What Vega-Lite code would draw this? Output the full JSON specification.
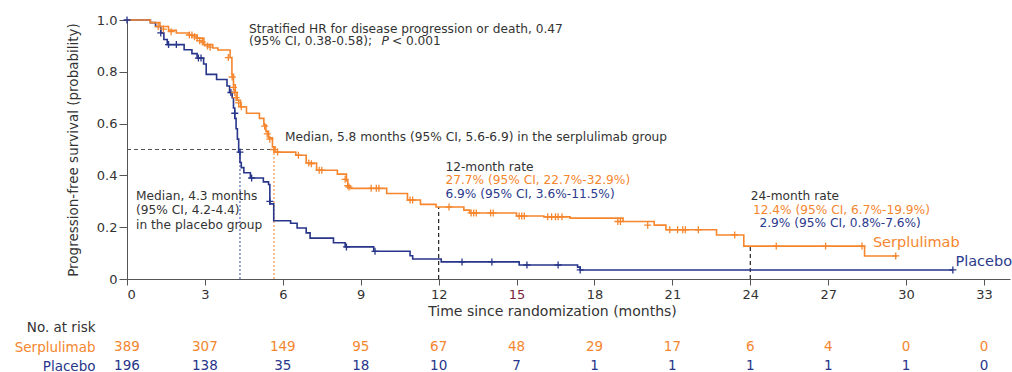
{
  "$schema": "https://vega.github.io/schema/vega-lite/v6.json",
  "padding": {"left": 14, "top": 13, "right": 0, "bottom": 0},
  "background": "white",
  "config": {
    "font": "DejaVu Sans",
    "view": {"stroke": null},
    "axis": {"labelFont": "DejaVu Sans", "titleFont": "DejaVu Sans", "grid": false, "domainColor": "#555555", "tickColor": "#555555", "labelColor": "#333333", "titleColor": "#333333", "titleFontWeight": "normal"}
  },
  "spacing": 0,
  "datasets": {
    "curve": [
      {"g": "Placebo", "t": 0, "s": 1.0}, {"g": "Placebo", "t": 0.9, "s": 0.99}, {"g": "Placebo", "t": 1.1, "s": 0.975}, {"g": "Placebo", "t": 1.3, "s": 0.95}, {"g": "Placebo", "t": 1.42, "s": 0.925}, {"g": "Placebo", "t": 1.55, "s": 0.905}, {"g": "Placebo", "t": 2.2, "s": 0.885}, {"g": "Placebo", "t": 2.5, "s": 0.87}, {"g": "Placebo", "t": 2.7, "s": 0.853}, {"g": "Placebo", "t": 2.95, "s": 0.83}, {"g": "Placebo", "t": 3.05, "s": 0.79}, {"g": "Placebo", "t": 3.45, "s": 0.77}, {"g": "Placebo", "t": 3.85, "s": 0.745}, {"g": "Placebo", "t": 3.95, "s": 0.72}, {"g": "Placebo", "t": 4.05, "s": 0.7}, {"g": "Placebo", "t": 4.1, "s": 0.66}, {"g": "Placebo", "t": 4.15, "s": 0.62}, {"g": "Placebo", "t": 4.2, "s": 0.58}, {"g": "Placebo", "t": 4.25, "s": 0.54}, {"g": "Placebo", "t": 4.3, "s": 0.49}, {"g": "Placebo", "t": 4.35, "s": 0.45}, {"g": "Placebo", "t": 4.4, "s": 0.43}, {"g": "Placebo", "t": 4.5, "s": 0.41}, {"g": "Placebo", "t": 4.75, "s": 0.39}, {"g": "Placebo", "t": 5.25, "s": 0.375}, {"g": "Placebo", "t": 5.45, "s": 0.365}, {"g": "Placebo", "t": 5.5, "s": 0.29}, {"g": "Placebo", "t": 5.65, "s": 0.225}, {"g": "Placebo", "t": 6.3, "s": 0.215}, {"g": "Placebo", "t": 6.55, "s": 0.197}, {"g": "Placebo", "t": 6.9, "s": 0.178}, {"g": "Placebo", "t": 7.05, "s": 0.158}, {"g": "Placebo", "t": 7.95, "s": 0.14}, {"g": "Placebo", "t": 8.4, "s": 0.124}, {"g": "Placebo", "t": 9.5, "s": 0.107}, {"g": "Placebo", "t": 10.9, "s": 0.09}, {"g": "Placebo", "t": 11.0, "s": 0.077}, {"g": "Placebo", "t": 12.1, "s": 0.066}, {"g": "Placebo", "t": 15.1, "s": 0.054}, {"g": "Placebo", "t": 17.35, "s": 0.046}, {"g": "Placebo", "t": 17.45, "s": 0.035}, {"g": "Placebo", "t": 31.8, "s": 0.035},
      {"g": "Serplulimab", "t": 0, "s": 1.0}, {"g": "Serplulimab", "t": 0.9, "s": 0.99}, {"g": "Serplulimab", "t": 1.27, "s": 0.975}, {"g": "Serplulimab", "t": 1.6, "s": 0.96}, {"g": "Serplulimab", "t": 1.9, "s": 0.95}, {"g": "Serplulimab", "t": 2.4, "s": 0.942}, {"g": "Serplulimab", "t": 2.7, "s": 0.93}, {"g": "Serplulimab", "t": 2.96, "s": 0.905}, {"g": "Serplulimab", "t": 3.3, "s": 0.892}, {"g": "Serplulimab", "t": 3.5, "s": 0.884}, {"g": "Serplulimab", "t": 3.97, "s": 0.855}, {"g": "Serplulimab", "t": 4.04, "s": 0.79}, {"g": "Serplulimab", "t": 4.1, "s": 0.75}, {"g": "Serplulimab", "t": 4.17, "s": 0.72}, {"g": "Serplulimab", "t": 4.24, "s": 0.69}, {"g": "Serplulimab", "t": 4.37, "s": 0.665}, {"g": "Serplulimab", "t": 4.6, "s": 0.64}, {"g": "Serplulimab", "t": 5.1, "s": 0.62}, {"g": "Serplulimab", "t": 5.27, "s": 0.595}, {"g": "Serplulimab", "t": 5.35, "s": 0.57}, {"g": "Serplulimab", "t": 5.45, "s": 0.545}, {"g": "Serplulimab", "t": 5.6, "s": 0.51}, {"g": "Serplulimab", "t": 5.7, "s": 0.49}, {"g": "Serplulimab", "t": 6.5, "s": 0.478}, {"g": "Serplulimab", "t": 6.9, "s": 0.448}, {"g": "Serplulimab", "t": 7.3, "s": 0.42}, {"g": "Serplulimab", "t": 8.1, "s": 0.405}, {"g": "Serplulimab", "t": 8.45, "s": 0.38}, {"g": "Serplulimab", "t": 8.5, "s": 0.355}, {"g": "Serplulimab", "t": 8.6, "s": 0.35}, {"g": "Serplulimab", "t": 10.0, "s": 0.33}, {"g": "Serplulimab", "t": 10.8, "s": 0.305}, {"g": "Serplulimab", "t": 11.3, "s": 0.288}, {"g": "Serplulimab", "t": 11.9, "s": 0.278}, {"g": "Serplulimab", "t": 12.97, "s": 0.266}, {"g": "Serplulimab", "t": 13.2, "s": 0.255}, {"g": "Serplulimab", "t": 15.0, "s": 0.243}, {"g": "Serplulimab", "t": 16.05, "s": 0.24}, {"g": "Serplulimab", "t": 17.06, "s": 0.235}, {"g": "Serplulimab", "t": 19.1, "s": 0.222}, {"g": "Serplulimab", "t": 20.3, "s": 0.208}, {"g": "Serplulimab", "t": 20.75, "s": 0.19}, {"g": "Serplulimab", "t": 22.7, "s": 0.17}, {"g": "Serplulimab", "t": 23.75, "s": 0.127}, {"g": "Serplulimab", "t": 28.4, "s": 0.089}, {"g": "Serplulimab", "t": 29.65, "s": 0.089}
    ],
    "censor": [
      {"g": "Placebo", "t": 0, "s": 1.0}, {"g": "Placebo", "t": 1.3, "s": 0.95}, {"g": "Placebo", "t": 1.6, "s": 0.905}, {"g": "Placebo", "t": 1.9, "s": 0.905}, {"g": "Placebo", "t": 2.75, "s": 0.853}, {"g": "Placebo", "t": 2.85, "s": 0.853}, {"g": "Placebo", "t": 4.0, "s": 0.72}, {"g": "Placebo", "t": 4.15, "s": 0.64}, {"g": "Placebo", "t": 4.35, "s": 0.49}, {"g": "Placebo", "t": 4.8, "s": 0.39}, {"g": "Placebo", "t": 5.5, "s": 0.3}, {"g": "Placebo", "t": 8.45, "s": 0.124}, {"g": "Placebo", "t": 9.55, "s": 0.107}, {"g": "Placebo", "t": 12.9, "s": 0.066}, {"g": "Placebo", "t": 14.05, "s": 0.066}, {"g": "Placebo", "t": 15.4, "s": 0.054}, {"g": "Placebo", "t": 16.6, "s": 0.054}, {"g": "Placebo", "t": 17.45, "s": 0.035}, {"g": "Placebo", "t": 31.8, "s": 0.035},
      {"g": "Serplulimab", "t": 1.2, "s": 0.975}, {"g": "Serplulimab", "t": 1.4, "s": 0.965}, {"g": "Serplulimab", "t": 1.7, "s": 0.955}, {"g": "Serplulimab", "t": 2.4, "s": 0.942}, {"g": "Serplulimab", "t": 2.5, "s": 0.942}, {"g": "Serplulimab", "t": 2.6, "s": 0.935}, {"g": "Serplulimab", "t": 2.7, "s": 0.93}, {"g": "Serplulimab", "t": 2.8, "s": 0.92}, {"g": "Serplulimab", "t": 2.9, "s": 0.915}, {"g": "Serplulimab", "t": 3.1, "s": 0.9}, {"g": "Serplulimab", "t": 3.2, "s": 0.895}, {"g": "Serplulimab", "t": 3.9, "s": 0.855}, {"g": "Serplulimab", "t": 4.05, "s": 0.78}, {"g": "Serplulimab", "t": 4.1, "s": 0.74}, {"g": "Serplulimab", "t": 4.15, "s": 0.72}, {"g": "Serplulimab", "t": 4.2, "s": 0.7}, {"g": "Serplulimab", "t": 4.3, "s": 0.68}, {"g": "Serplulimab", "t": 4.4, "s": 0.665}, {"g": "Serplulimab", "t": 5.3, "s": 0.59}, {"g": "Serplulimab", "t": 5.4, "s": 0.56}, {"g": "Serplulimab", "t": 5.5, "s": 0.54}, {"g": "Serplulimab", "t": 5.65, "s": 0.5}, {"g": "Serplulimab", "t": 5.8, "s": 0.49}, {"g": "Serplulimab", "t": 6.6, "s": 0.478}, {"g": "Serplulimab", "t": 7.0, "s": 0.448}, {"g": "Serplulimab", "t": 7.1, "s": 0.445}, {"g": "Serplulimab", "t": 7.4, "s": 0.42}, {"g": "Serplulimab", "t": 7.5, "s": 0.42}, {"g": "Serplulimab", "t": 8.4, "s": 0.385}, {"g": "Serplulimab", "t": 8.5, "s": 0.36}, {"g": "Serplulimab", "t": 8.55, "s": 0.355}, {"g": "Serplulimab", "t": 9.4, "s": 0.35}, {"g": "Serplulimab", "t": 9.6, "s": 0.35}, {"g": "Serplulimab", "t": 9.7, "s": 0.35}, {"g": "Serplulimab", "t": 10.9, "s": 0.305}, {"g": "Serplulimab", "t": 11.0, "s": 0.305}, {"g": "Serplulimab", "t": 12.4, "s": 0.278}, {"g": "Serplulimab", "t": 13.25, "s": 0.255}, {"g": "Serplulimab", "t": 13.35, "s": 0.255}, {"g": "Serplulimab", "t": 13.45, "s": 0.255}, {"g": "Serplulimab", "t": 14.0, "s": 0.255}, {"g": "Serplulimab", "t": 14.1, "s": 0.255}, {"g": "Serplulimab", "t": 15.1, "s": 0.243}, {"g": "Serplulimab", "t": 15.2, "s": 0.243}, {"g": "Serplulimab", "t": 15.3, "s": 0.243}, {"g": "Serplulimab", "t": 16.2, "s": 0.24}, {"g": "Serplulimab", "t": 16.35, "s": 0.24}, {"g": "Serplulimab", "t": 16.5, "s": 0.24}, {"g": "Serplulimab", "t": 16.6, "s": 0.24}, {"g": "Serplulimab", "t": 16.75, "s": 0.24}, {"g": "Serplulimab", "t": 18.9, "s": 0.222}, {"g": "Serplulimab", "t": 19.0, "s": 0.222}, {"g": "Serplulimab", "t": 20.05, "s": 0.208}, {"g": "Serplulimab", "t": 20.9, "s": 0.19}, {"g": "Serplulimab", "t": 21.2, "s": 0.19}, {"g": "Serplulimab", "t": 21.4, "s": 0.19}, {"g": "Serplulimab", "t": 21.5, "s": 0.19}, {"g": "Serplulimab", "t": 22.0, "s": 0.19}, {"g": "Serplulimab", "t": 23.4, "s": 0.17}, {"g": "Serplulimab", "t": 25.0, "s": 0.127}, {"g": "Serplulimab", "t": 26.9, "s": 0.127}, {"g": "Serplulimab", "t": 28.3, "s": 0.127}, {"g": "Serplulimab", "t": 29.6, "s": 0.089}
    ],
    "notes": [
      {"x": 4.7, "y": 0.967, "t": "Stratified HR for disease progression or death, 0.47", "c": "#333333"},
      {"x": 4.7, "y": 0.917, "t": "(95% CI, 0.38-0.58);", "c": "#333333"},
      {"x": 10.2, "y": 0.917, "t": "< 0.001", "c": "#333333"},
      {"x": 6.08, "y": 0.548, "t": "Median, 5.8 months (95% CI, 5.6-6.9) in the serplulimab group", "c": "#333333"},
      {"x": 12.26, "y": 0.432, "t": "12-month rate", "c": "#333333"},
      {"x": 12.26, "y": 0.381, "t": "27.7% (95% CI, 22.7%-32.9%)", "c": "#f5862e"},
      {"x": 12.26, "y": 0.329, "t": "6.9% (95% CI, 3.6%-11.5%)", "c": "#2b3a8c"},
      {"x": 24.02, "y": 0.32, "t": "24-month rate", "c": "#333333"},
      {"x": 24.1, "y": 0.268, "t": "12.4% (95% CI, 6.7%-19.9%)", "c": "#f5862e"},
      {"x": 24.35, "y": 0.216, "t": "2.9% (95% CI, 0.8%-7.6%)", "c": "#2b3a8c"},
      {"x": 0.35, "y": 0.322, "t": "Median, 4.3 months", "c": "#333333"},
      {"x": 0.35, "y": 0.265, "t": "(95% CI, 4.2-4.4)", "c": "#333333"},
      {"x": 0.35, "y": 0.21, "t": "in the placebo group", "c": "#333333"}
    ],
    "labels": [
      {"x": 28.72, "y": 0.138, "t": "Serplulimab", "c": "#f5862e"},
      {"x": 31.9, "y": 0.066, "t": "Placebo", "c": "#2b3a8c"}
    ],
    "risk": [
      {"g": "Serplulimab", "t": 0, "n": 389}, {"g": "Serplulimab", "t": 3, "n": 307}, {"g": "Serplulimab", "t": 6, "n": 149}, {"g": "Serplulimab", "t": 9, "n": 95}, {"g": "Serplulimab", "t": 12, "n": 67}, {"g": "Serplulimab", "t": 15, "n": 48}, {"g": "Serplulimab", "t": 18, "n": 29}, {"g": "Serplulimab", "t": 21, "n": 17}, {"g": "Serplulimab", "t": 24, "n": 6}, {"g": "Serplulimab", "t": 27, "n": 4}, {"g": "Serplulimab", "t": 30, "n": 0}, {"g": "Serplulimab", "t": 33, "n": 0},
      {"g": "Placebo", "t": 0, "n": 196}, {"g": "Placebo", "t": 3, "n": 138}, {"g": "Placebo", "t": 6, "n": 35}, {"g": "Placebo", "t": 9, "n": 18}, {"g": "Placebo", "t": 12, "n": 10}, {"g": "Placebo", "t": 15, "n": 7}, {"g": "Placebo", "t": 18, "n": 1}, {"g": "Placebo", "t": 21, "n": 1}, {"g": "Placebo", "t": 24, "n": 1}, {"g": "Placebo", "t": 27, "n": 1}, {"g": "Placebo", "t": 30, "n": 1}, {"g": "Placebo", "t": 33, "n": 0}
    ]
  },
  "vconcat": [
    {
      "width": 883,
      "height": 259,
      "layer": [
        {
          "data": {"values": [{"x": 0, "x2": 5.66, "y": 0.5}]},
          "mark": {"type": "rule", "color": "#555555", "strokeDash": [4, 3], "strokeWidth": 1},
          "encoding": {
            "x": {"field": "x", "type": "quantitative", "scale": {"domain": [0, 34], "nice": false}},
            "x2": {"field": "x2"},
            "y": {"field": "y", "type": "quantitative", "scale": {"domain": [0, 1]}}
          }
        },
        {
          "data": {"values": [{"x": 4.35, "y": 0, "y2": 0.5}]},
          "mark": {"type": "rule", "color": "#5a67b8", "strokeDash": [2, 2], "strokeWidth": 1.2},
          "encoding": {
            "x": {"field": "x", "type": "quantitative"},
            "y": {"field": "y", "type": "quantitative"},
            "y2": {"field": "y2"}
          }
        },
        {
          "data": {"values": [{"x": 5.66, "y": 0, "y2": 0.5}]},
          "mark": {"type": "rule", "color": "#f5964a", "strokeDash": [2, 2], "strokeWidth": 1.2},
          "encoding": {
            "x": {"field": "x", "type": "quantitative"},
            "y": {"field": "y", "type": "quantitative"},
            "y2": {"field": "y2"}
          }
        },
        {
          "data": {"values": [{"x": 12, "y": 0, "y2": 0.278}, {"x": 24, "y": 0, "y2": 0.127}]},
          "mark": {"type": "rule", "color": "#222222", "strokeDash": [4, 3], "strokeWidth": 1.2},
          "encoding": {
            "x": {"field": "x", "type": "quantitative"},
            "y": {"field": "y", "type": "quantitative"},
            "y2": {"field": "y2"}
          }
        },
        {
          "data": {"name": "curve"},
          "mark": {"type": "line", "interpolate": "step-after", "strokeWidth": 1.6},
          "encoding": {
            "x": {"field": "t", "type": "quantitative", "scale": {"domain": [0, 34], "nice": false},
              "axis": {"values": [0, 3, 6, 9, 12, 15, 18, 21, 24, 27, 30, 33], "title": "Time since randomization (months)", "labelFontSize": 13, "titleFontSize": 14, "tickSize": 6, "labelPadding": 3, "titlePadding": 3, "titleX": 425,
                "labelColor": {"condition": {"test": "datum.value == 15", "value": "#7a1f3d"}, "value": "#333333"}}},
            "y": {"field": "s", "type": "quantitative", "scale": {"domain": [0, 1]},
              "axis": {"values": [0, 0.2, 0.4, 0.6, 0.8, 1.0], "labelExpr": "datum.value == 0 ? '0' : format(datum.value, '.1f')", "title": "Progression-free survival (probability)", "labelFontSize": 13, "titleFontSize": 13.5, "tickSize": 8, "labelPadding": 2, "titlePadding": 16}},
            "color": {"field": "g", "type": "nominal", "scale": {"domain": ["Serplulimab", "Placebo"], "range": ["#f5862e", "#27358a"]}, "legend": null},
            "detail": {"field": "g"}
          }
        },
        {
          "data": {"name": "censor"},
          "mark": {"type": "point", "shape": "M-1,0L1,0M0,-1L0,1", "size": 49, "strokeWidth": 1.3, "filled": false, "opacity": 1},
          "encoding": {
            "x": {"field": "t", "type": "quantitative"},
            "y": {"field": "s", "type": "quantitative"},
            "color": {"field": "g", "type": "nominal", "legend": null}
          }
        },
        {
          "data": {"name": "notes"},
          "mark": {"type": "text", "align": "left", "baseline": "middle", "fontSize": 12.2},
          "encoding": {
            "x": {"field": "x", "type": "quantitative"},
            "y": {"field": "y", "type": "quantitative"},
            "text": {"field": "t"},
            "color": {"field": "c", "type": "nominal", "scale": null}
          }
        },
        {
          "data": {"values": [{"x": 9.8, "y": 0.917, "t": "P"}]},
          "mark": {"type": "text", "align": "left", "baseline": "middle", "fontSize": 12.2, "fontStyle": "italic", "color": "#333333"},
          "encoding": {
            "x": {"field": "x", "type": "quantitative"},
            "y": {"field": "y", "type": "quantitative"},
            "text": {"field": "t"}
          }
        },
        {
          "data": {"name": "labels"},
          "mark": {"type": "text", "align": "left", "baseline": "middle", "fontSize": 14.5},
          "encoding": {
            "x": {"field": "x", "type": "quantitative"},
            "y": {"field": "y", "type": "quantitative"},
            "text": {"field": "t"},
            "color": {"field": "c", "type": "nominal", "scale": null}
          }
        }
      ]
    },
    {
      "width": 883,
      "height": 58,
      "data": {"name": "risk"},
      "mark": {"type": "text", "fontSize": 13.5, "baseline": "middle"},
      "encoding": {
        "x": {"field": "t", "type": "quantitative", "scale": {"domain": [0, 34], "nice": false}, "axis": null},
        "y": {"field": "g", "type": "nominal", "scale": {"domain": ["No. at risk", "Serplulimab", "Placebo"]},
          "axis": {"title": null, "domain": false, "ticks": false, "labelFontSize": 13.5, "labelPadding": 32,
            "labelColor": {"condition": [{"test": "datum.value == 'Serplulimab'", "value": "#f5862e"}, {"test": "datum.value == 'Placebo'", "value": "#27358a"}], "value": "#333333"}}},
        "text": {"field": "n"},
        "color": {"field": "g", "type": "nominal", "legend": null}
      }
    }
  ]
}
